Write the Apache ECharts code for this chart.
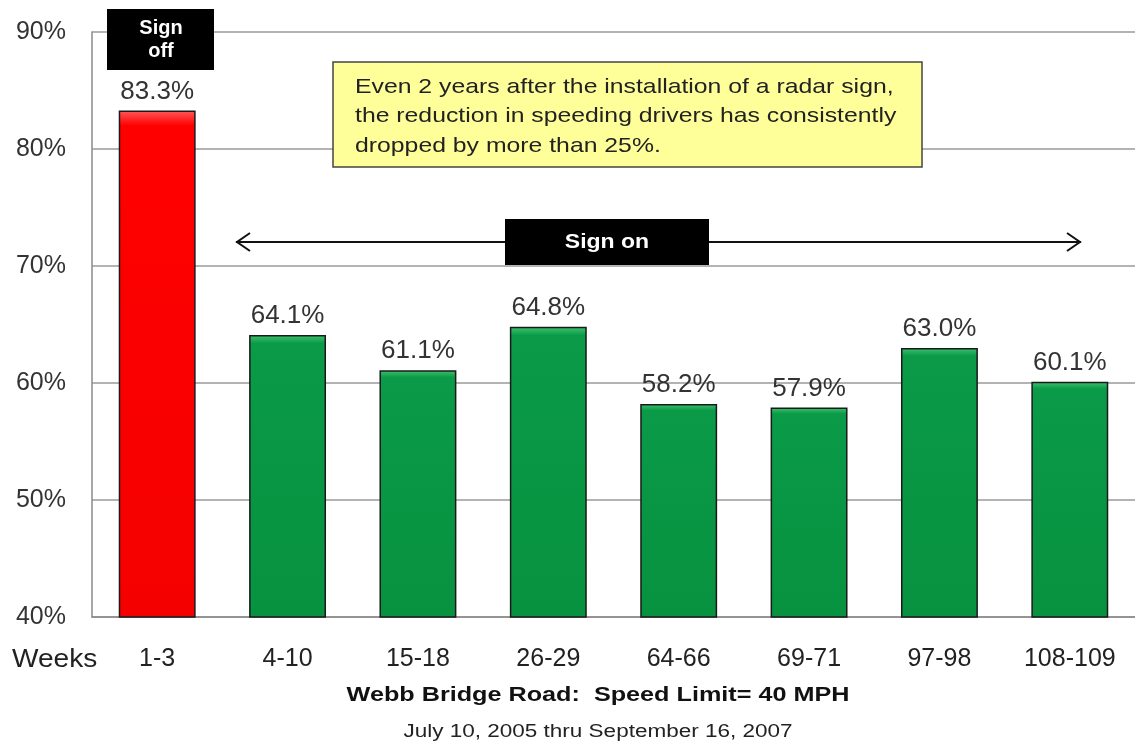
<!DOCTYPE html>
<html><head><meta charset="utf-8">
<script src="https://cdn.jsdelivr.net/npm/echarts@6/dist/echarts.min.js"></script>
<style>html,body{margin:0;padding:0;background:#fff}#c{width:1135px;height:748px}</style>
</head><body><div id="c"></div>
<script>
var categories = ['1-3','4-10','15-18','26-29','64-66','69-71','97-98','108-109'];
var values = [83.3, 64.1, 61.1, 64.8, 58.2, 57.9, 63.0, 60.1];
var signOff = [true, false, false, false, false, false, false, false];
var yTicks = {min: 40, max: 90, interval: 10};

var FONT = '"Liberation Sans", Arial, sans-serif';
function grad(top, mid, bot){
  return new echarts.graphic.LinearGradient(0,0,0,1,[
    {offset:0, color:top},{offset:0.03, color:mid},{offset:1, color:bot}]);
}
var data = values.map(function(v,i){
  return {value:v, itemStyle:{color: signOff[i] ? grad('#ff5a5a','#ff0000','#f50000') : grad('#3fc46c','#0a9a48','#07923f')}};
});
var chart = echarts.init(document.getElementById('c'));
chart.setOption({
  animation:false,
  grid:{left:92, right:0, top:32, bottom:131},
  xAxis:{type:'category', data:categories,
    axisLine:{lineStyle:{color:'#8a8a8a', width:1.5}}, axisTick:{show:false},
    axisLabel:{color:'#222', fontSize:25, fontFamily:FONT, margin:30}},
  yAxis:{type:'value', min:yTicks.min, max:yTicks.max, interval:yTicks.interval,
    axisLine:{show:true, lineStyle:{color:'#8a8a8a', width:1.5}}, axisTick:{show:false},
    splitLine:{lineStyle:{color:'#9a9a9a', width:1.5}},
    axisLabel:{formatter:'{value}%', color:'#333', fontSize:25, fontFamily:FONT, margin:26}},
  series:[{type:'bar', data:data, barWidth:'59%',
    itemStyle:{borderColor:'#1a1a1a', borderWidth:1.5},
    label:{show:true, position:'top', distance:6, color:'#333', fontSize:26, fontFamily:FONT,
      formatter:function(p){return p.value.toFixed(1)+'%';}}}],
  graphic:[
    {type:'text', z:100, x:12, y:660, scaleX:1.08, style:{text:'Weeks', fontSize:26, fontFamily:FONT, fill:'#222', textVerticalAlign:'middle'}},
    {type:'text', z:100, x:598, y:695, scaleX:1.2, style:{text:'Webb Bridge Road:  Speed Limit= 40 MPH', fontSize:21, fontWeight:'bold', fontFamily:FONT, fill:'#111', textAlign:'center', textVerticalAlign:'middle'}},
    {type:'text', z:100, x:598, y:732, scaleX:1.25, style:{text:'July 10, 2005 thru September 16, 2007', fontSize:18, fontFamily:FONT, fill:'#222', textAlign:'center', textVerticalAlign:'middle'}},
    {type:'rect', z:100, shape:{x:107, y:9, width:107, height:61}, style:{fill:'#000'}},
    {type:'text', z:101, x:161, y:40, style:{text:'Sign\noff', fontSize:20, fontWeight:'bold', fontFamily:FONT, fill:'#fff', textAlign:'center', textVerticalAlign:'middle', lineHeight:23}},
    {type:'rect', z:100, shape:{x:333, y:62, width:589, height:105}, style:{fill:'#ffff99', stroke:'#444', lineWidth:1.5}},
    {type:'text', z:101, x:355, y:72, scaleX:1.18, style:{text:'Even 2 years after the installation of a radar sign,\nthe reduction in speeding drivers has consistently\ndropped by more than 25%.', fontSize:21, fontFamily:FONT, fill:'#222', lineHeight:29.5}},
    {type:'line', z:100, shape:{x1:236, y1:242, x2:505, y2:242}, style:{stroke:'#111', lineWidth:2}},
    {type:'line', z:100, shape:{x1:709, y1:242, x2:1081, y2:242}, style:{stroke:'#111', lineWidth:2}},
    {type:'polyline', z:100, shape:{points:[[250,233],[237,242],[250,251]]}, style:{stroke:'#111', lineWidth:2, fill:null}},
    {type:'polyline', z:100, shape:{points:[[1067,233],[1080,242],[1067,251]]}, style:{stroke:'#111', lineWidth:2, fill:null}},
    {type:'rect', z:100, shape:{x:505, y:219, width:204, height:46}, style:{fill:'#000'}},
    {type:'text', z:101, x:607, y:242, scaleX:1.15, style:{text:'Sign on', fontSize:20, fontWeight:'bold', fontFamily:FONT, fill:'#fff', textAlign:'center', textVerticalAlign:'middle'}}
  ]
});
</script></body></html>
